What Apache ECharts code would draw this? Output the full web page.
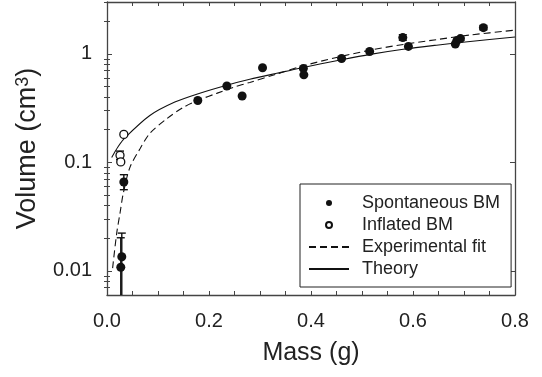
<!DOCTYPE html>
<html>
<head>
<meta charset="utf-8">
<script src="https://cdn.jsdelivr.net/npm/echarts@6/dist/echarts.min.js"></script>
<style>
html,body{margin:0;padding:0;background:#fff;}
#c{width:542px;height:377px;}
</style>
</head>
<body>
<div id="c"></div>
<script>
// ---- data ----
const spontMass = [0.027, 0.029, 0.033, 0.178, 0.235, 0.265, 0.305, 0.385, 0.386, 0.460, 0.515, 0.580, 0.591, 0.683, 0.686, 0.693, 0.738];
const spontVol  = [0.0108, 0.0135, 0.066, 0.371, 0.505, 0.409, 0.744, 0.733, 0.640, 0.906, 1.05, 1.41, 1.17, 1.23, 1.32, 1.38, 1.74];

const inflMass = [0.0255, 0.027, 0.033];
const inflVol  = [0.116, 0.101, 0.181];

const errMass = [0.027, 0.029, 0.033, 0.0255, 0.580, 0.693, 0.738];
const errLow  = [0.002, 0.004, 0.056, 0.106, 1.33, 1.33, 1.66];
const errHigh = [0.0202, 0.0223, 0.077, 0.127, 1.50, 1.43, 1.82];

const fitMass = [0.011, 0.019, 0.0255, 0.032, 0.045, 0.065, 0.084, 0.117, 0.150, 0.182, 0.215, 0.248, 0.280, 0.333, 0.385, 0.450, 0.516, 0.581, 0.646, 0.712, 0.800];
const fitVol  = [0.0106, 0.0222, 0.034, 0.052, 0.090, 0.134, 0.185, 0.252, 0.322, 0.378, 0.432, 0.491, 0.545, 0.651, 0.776, 0.925, 1.08, 1.22, 1.35, 1.49, 1.65];

const theoMass = [0.0092, 0.022, 0.035, 0.084, 0.133, 0.182, 0.235, 0.280, 0.333, 0.385, 0.450, 0.516, 0.581, 0.646, 0.712, 0.800];
const theoVol  = [0.111, 0.140, 0.168, 0.270, 0.359, 0.434, 0.514, 0.582, 0.662, 0.749, 0.862, 0.987, 1.10, 1.20, 1.30, 1.43];

const xTickLabels = [0, 0.2, 0.4, 0.6, 0.8];
const yTickLabels = [0.01, 0.1, 1];
const yMinorTicks = [0.007, 0.008, 0.009, 0.02, 0.03, 0.04, 0.05, 0.06, 0.07, 0.08, 0.09,
                     0.2, 0.3, 0.4, 0.5, 0.6, 0.7, 0.8, 0.9, 2, 3];

const seriesNames = ['Spontaneous BM', 'Inflated BM', 'Experimental fit', 'Theory'];

// ---- chart ----
const FONT = 'Liberation Sans, Arial, sans-serif';
const INK = '#111';
const FRAME = '#444';
const zip = (a, b) => a.map((v, i) => [v, b[i]]);

const chart = echarts.init(document.getElementById('c'), null, {renderer: 'canvas'});

const xBase = {
  type: 'value', min: 0, max: 0.8, interval: 0.05,
  axisLine: {show: true, onZero: false, lineStyle: {color: FRAME, width: 1.3}},
  axisTick: {show: true, inside: true, length: 4, lineStyle: {color: FRAME, width: 1}},
  splitLine: {show: false}
};
const yBase = {
  type: 'log', logBase: 10, min: 0.006, max: 3,
  axisLine: {show: true, onZero: false, lineStyle: {color: FRAME, width: 1.3}},
  splitLine: {show: false},
  minorTick: {show: false}
};

const noSymbol = {color: 'rgba(0,0,0,0)', borderWidth: 0, opacity: 0};

chart.setOption({
  animation: false,
  backgroundColor: '#fff',
  grid: {left: 107, top: 2, right: 27, bottom: 82, containLabel: false},
  xAxis: [
    Object.assign({}, xBase, {
      position: 'bottom',
      name: 'Mass (g)', nameLocation: 'middle', nameGap: 46,
      nameTextStyle: {fontFamily: FONT, fontSize: 25, color: '#222'},
      axisLabel: {show: true, margin: 16, fontFamily: FONT, fontSize: 20, color: '#222',
        customValues: xTickLabels, formatter: v => (+v).toFixed(1)}
    }),
    Object.assign({}, xBase, {position: 'top', axisLabel: {show: false}})
  ],
  yAxis: [
    Object.assign({}, yBase, {
      position: 'left',
      name: 'Volume (cm{s|3})', nameLocation: 'middle', nameGap: 60, nameRotate: 90,
      nameTextStyle: {fontFamily: FONT, fontSize: 27, color: '#222',
        rich: {s: {fontFamily: FONT, fontSize: 18, color: '#222', verticalAlign: 'top', lineHeight: 27, padding: [0, 0, 10, 0]}}},
      axisTick: {show: true, inside: true, length: 5, customValues: yTickLabels, lineStyle: {color: FRAME, width: 1}},
      axisLabel: {show: true, margin: 15, fontFamily: FONT, fontSize: 20, color: '#222',
        customValues: yTickLabels, formatter: v => String(parseFloat((+v).toPrecision(3)))}
    }),
    Object.assign({}, yBase, {
      position: 'left', axisLine: {show: false},
      axisTick: {show: true, inside: true, length: 3, customValues: yMinorTicks, lineStyle: {color: FRAME, width: 1}},
      axisLabel: {show: false}
    }),
    Object.assign({}, yBase, {
      position: 'right',
      axisTick: {show: true, inside: true, length: 5, customValues: yTickLabels, lineStyle: {color: FRAME, width: 1}},
      axisLabel: {show: false}
    }),
    Object.assign({}, yBase, {
      position: 'right', axisLine: {show: false},
      axisTick: {show: true, inside: true, length: 3, customValues: yMinorTicks, lineStyle: {color: FRAME, width: 1}},
      axisLabel: {show: false}
    })
  ],
  legend: {
    show: true,
    data: [
      {name: seriesNames[0]},
      {name: seriesNames[1]},
      {name: seriesNames[2], itemStyle: noSymbol},
      {name: seriesNames[3], itemStyle: noSymbol}
    ],
    orient: 'vertical',
    left: 300, top: 184,
    padding: [10, 11, 9, 8],
    itemGap: 4,
    itemWidth: 40, itemHeight: 6,
    backgroundColor: '#fff',
    borderColor: '#222', borderWidth: 1, borderRadius: 0,
    selectedMode: false,
    textStyle: {fontFamily: FONT, fontSize: 18, lineHeight: 18, color: '#222', padding: [0, 0, 0, 8]}
  },
  series: [
    {
      name: 'Experimental fit', type: 'line', xAxisIndex: 0, yAxisIndex: 0,
      data: zip(fitMass, fitVol), smooth: 0.3, symbol: 'none', showSymbol: false,
      lineStyle: {color: INK, width: 1.1, type: [7, 4]}, itemStyle: {color: INK},
      clip: true, z: 2
    },
    {
      name: 'Theory', type: 'line', xAxisIndex: 0, yAxisIndex: 0,
      data: zip(theoMass, theoVol), smooth: 0.3, symbol: 'none', showSymbol: false,
      lineStyle: {color: INK, width: 1.1, type: 'solid'}, itemStyle: {color: INK},
      clip: true, z: 2
    },
    {
      name: 'errorbars', type: 'custom', xAxisIndex: 0, yAxisIndex: 0,
      data: errMass.map((m, i) => [m, errLow[i], errHigh[i]]),
      clip: true, z: 3, silent: true,
      encode: {x: 0, y: [1, 2]},
      renderItem: function (params, api) {
        const x = api.value(0);
        const lo = api.coord([x, api.value(1)]);
        const hi = api.coord([x, api.value(2)]);
        const w = 4;
        const st = {stroke: INK, lineWidth: 1.4};
        return {type: 'group', children: [
          {type: 'line', shape: {x1: lo[0], y1: lo[1], x2: hi[0], y2: hi[1]}, style: st},
          {type: 'line', shape: {x1: lo[0] - w, y1: lo[1], x2: lo[0] + w, y2: lo[1]}, style: st},
          {type: 'line', shape: {x1: hi[0] - w, y1: hi[1], x2: hi[0] + w, y2: hi[1]}, style: st}
        ]};
      }
    },
    {
      name: 'Spontaneous BM', type: 'scatter', xAxisIndex: 0, yAxisIndex: 0,
      data: zip(spontMass, spontVol), symbol: 'circle', symbolSize: 9,
      itemStyle: {color: INK, opacity: 1}, z: 4
    },
    {
      name: 'Inflated BM', type: 'scatter', xAxisIndex: 0, yAxisIndex: 0,
      data: zip(inflMass, inflVol), symbol: 'circle', symbolSize: 8,
      itemStyle: {color: '#fff', borderColor: INK, borderWidth: 1.3, opacity: 1}, z: 4
    }
  ]
});
</script>
</body>
</html>
